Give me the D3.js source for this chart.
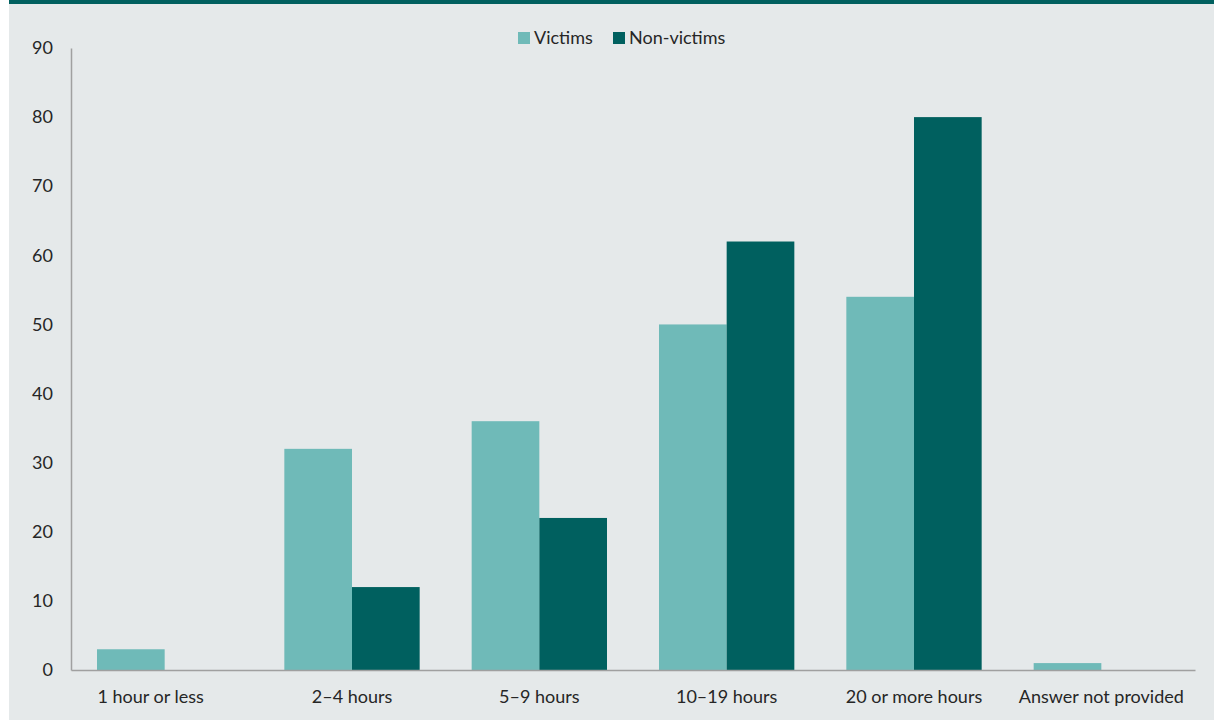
<!DOCTYPE html>
<html>
<head>
<meta charset="utf-8">
<script src="https://cdn.jsdelivr.net/npm/d3@7"></script>
<style>
  body { margin: 0; background: #fff; }
  text { font-family: Lato, "Open Sans", sans-serif; fill: #262626; }
</style>
</head>
<body>
<div class="chart"></div>
<script>
// Chart data
var categories = ["1 hour or less", "2\u20134 hours", "5\u20139 hours", "10\u201319 hours", "20 or more hours", "Answer not provided"];
var seriesNames = ["Victims", "Non-victims"];
var victims = [3, 32, 36, 50, 54, 1];
var nonVictims = [0, 12, 22, 62, 80, 0];
var yTicks = [0, 10, 20, 30, 40, 50, 60, 70, 80, 90];

var svgWidth = 1214;
var svgHeight = 720;
var margin = {top: 48, right: 19, bottom: 50, left: 71};
var width = svgWidth - margin.left - margin.right;
var height = svgHeight - margin.top - margin.bottom;
var colors = ["#6fbab8", "#00605f"];

var svg = d3.select(".chart")
    .append("svg")
    .attr("width", svgWidth)
    .attr("height", svgHeight);

// background panel + top band
svg.append("rect").attr("x", 9).attr("y", 0).attr("width", svgWidth - 9).attr("height", svgHeight).attr("fill", "#e5e9ea");
svg.append("rect").attr("x", 9).attr("y", 0).attr("width", svgWidth - 9).attr("height", 4).attr("fill", "#00605f");

var chart = svg.append("g")
    .attr("transform", "translate(" + margin.left + "," + margin.top + ")");

var xScale = d3.scaleBand().domain(categories).range([0, width]).paddingInner(0).paddingOuter(0);
var xInner = d3.scaleBand().domain(seriesNames).range([26, xScale.bandwidth() - 26]);
var yScale = d3.scaleLinear().domain([0, 90]).range([height, 0]);

// bars
var data = categories.map(function(c, i) {
    return {cat: c, values: [victims[i], nonVictims[i]]};
});

var groups = chart.selectAll(".cat")
    .data(data)
    .enter()
    .append("g")
    .attr("transform", function(d) { return "translate(" + xScale(d.cat) + ",0)"; });

groups.selectAll("rect")
    .data(function(d) { return d.values.map(function(v, j) { return {name: seriesNames[j], v: v, j: j}; }); })
    .enter()
    .append("rect")
    .attr("x", function(d) { return xInner(d.name); })
    .attr("width", xInner.bandwidth())
    .attr("y", function(d) { return yScale(d.v); })
    .attr("height", function(d) { return height - yScale(d.v); })
    .attr("fill", function(d) { return colors[d.j]; });

// y axis
var leftAxis = d3.axisLeft(yScale).tickValues(yTicks).tickSize(0).tickPadding(18);
var yAxis = chart.append("g").call(leftAxis);
yAxis.select(".domain").attr("stroke", "#a0a0a0").attr("stroke-width", 1.5);
yAxis.selectAll("text").style("font-size", "18px").attr("fill", "#262626");

// x axis
var bottomAxis = d3.axisBottom(xScale).tickSize(0).tickPadding(20);
var xAxis = chart.append("g").attr("transform", "translate(0," + height + ")").call(bottomAxis);
xAxis.select(".domain").attr("stroke", "#a0a0a0").attr("stroke-width", 1.5);
xAxis.selectAll("text").style("font-size", "18px").attr("fill", "#262626");
// first label sits a little left of its band in the original
xAxis.selectAll("text").filter(function(d, i) { return i === 0; }).attr("dx", -14);

// legend
var legendX = [518, 613];
var legend = svg.selectAll(".legend")
    .data(seriesNames)
    .enter()
    .append("g")
    .attr("transform", function(d, i) { return "translate(" + legendX[i] + ",32)"; });
legend.append("rect").attr("width", 12).attr("height", 12).attr("fill", function(d, i) { return colors[i]; });
legend.append("text").attr("x", 16).attr("y", 12).style("font-size", "18px").text(function(d) { return d; });
</script>
</body>
</html>
